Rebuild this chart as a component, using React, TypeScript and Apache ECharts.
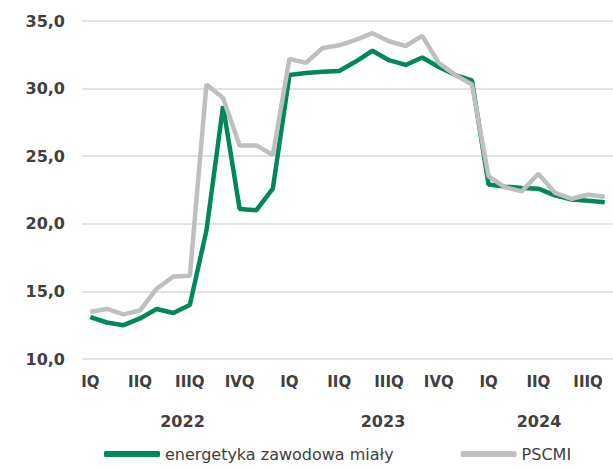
import React, { useEffect, useRef } from "react";
import * as echarts from "echarts";

const months = [
  "2022-01", "2022-02", "2022-03", "2022-04", "2022-05", "2022-06",
  "2022-07", "2022-08", "2022-09", "2022-10", "2022-11", "2022-12",
  "2023-01", "2023-02", "2023-03", "2023-04", "2023-05", "2023-06",
  "2023-07", "2023-08", "2023-09", "2023-10", "2023-11", "2023-12",
  "2024-01", "2024-02", "2024-03", "2024-04", "2024-05", "2024-06",
  "2024-07", "2024-08",
];
const quarterLabels = ["IQ", "IIQ", "IIIQ", "IVQ"];
const yearLabels = ["2022", "2023", "2024"];

const energetyka = [
  13.1, 12.7, 12.5, 13.0, 13.7, 13.4, 14.0, 19.5, 28.7, 21.1, 21.0, 22.6,
  31.0, 31.15, 31.25, 31.3, 32.0, 32.8, 32.1, 31.75, 32.3, 31.6, 31.0, 30.6,
  22.9, 22.75, 22.65, 22.6, 22.1, 21.8, 21.7, 21.6,
];
const pscmi = [
  13.5, 13.7, 13.3, 13.6, 15.2, 16.1, 16.15, 30.3, 29.3, 25.8, 25.8, 25.1,
  32.2, 31.9, 33.0, 33.2, 33.6, 34.1, 33.5, 33.15, 33.9, 31.9, 31.0, 30.3,
  23.5, 22.7, 22.4, 23.7, 22.3, 21.85, 22.15, 22.0,
];

const seriesNames = ["energetyka zawodowa miały", "PSCMI"];
const colors = ["#00875A", "#BFBFBF"];
const FONT = "'DejaVu Sans', sans-serif";
const TEXT = "#404040";

export default function App() {
  const ref = useRef<HTMLDivElement>(null);
  useEffect(() => {
    document.body.style.margin = "0";
    const chart = echarts.init(ref.current!, null, { renderer: "svg" });
    chart.setOption({
      animation: false,
      grid: { left: 82, right: -3, top: 21, bottom: 111 },
      xAxis: {
        type: "category",
        data: months,
        boundaryGap: true,
        axisLine: { show: false },
        axisTick: { show: false },
        axisLabel: {
          interval: 2,
          margin: 15,
          color: TEXT,
          fontFamily: FONT,
          fontWeight: "bold",
          fontSize: 15,
          formatter: (_v: string, i: number) => quarterLabels[(i / 3) % 4],
        },
      },
      yAxis: {
        type: "value",
        min: 10,
        max: 35,
        interval: 5,
        axisLine: { show: false },
        axisTick: { show: false },
        splitLine: { lineStyle: { color: "#D9D9D9", width: 1.5 } },
        axisLabel: {
          margin: 17,
          color: TEXT,
          fontFamily: FONT,
          fontWeight: "bold",
          fontSize: 16,
          formatter: (v: number) => v.toFixed(1).replace(".", ","),
        },
      },
      legend: {
        bottom: 3,
        left: 99,
        itemGap: 67,
        itemWidth: 56,
        itemHeight: 6,
        icon: "roundRect",
        textStyle: { color: TEXT, fontFamily: FONT, fontSize: 16 },
        data: seriesNames,
      },
      graphic: yearLabels.map((y, i) => ({
        type: "text",
        x: [182.5, 383, 539][i],
        y: 421,
        style: {
          text: y,
          fill: TEXT,
          font: `bold 16px ${FONT}`,
          textAlign: "center",
          textVerticalAlign: "middle",
        },
      })),
      series: [
        {
          name: seriesNames[0],
          type: "line",
          data: energetyka,
          symbol: "none",
          color: colors[0],
          lineStyle: { width: 4.5, color: colors[0] },
        },
        {
          name: seriesNames[1],
          type: "line",
          data: pscmi,
          symbol: "none",
          color: colors[1],
          lineStyle: { width: 4.5, color: colors[1] },
        },
      ],
    });
    return () => chart.dispose();
  }, []);
  return <div ref={ref} style={{ width: 613, height: 470 }} />;
}
